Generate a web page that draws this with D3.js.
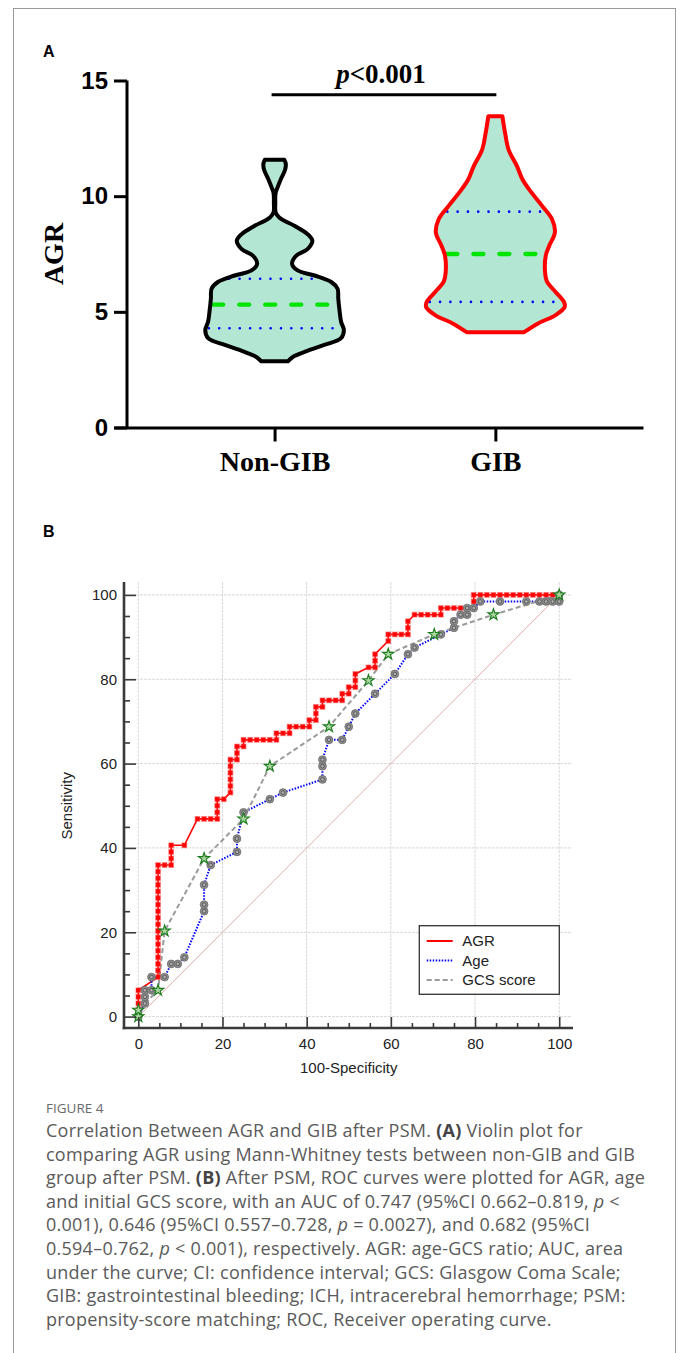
<!DOCTYPE html>
<html><head><meta charset="utf-8">
<script src="https://cdn.jsdelivr.net/npm/d3@7"></script>
<style>body{margin:0;background:#fff} svg{display:block}</style>
</head><body><svg id="c" width="682" height="1353"></svg>
<script>
// ---------- DATA ----------
const violinCategories = ["Non-GIB", "GIB"];
// [AGR value, relative density]
const nonGibProfile = [[2.86,0.19],[3.05,0.26],[3.3,0.46],[3.57,0.71],[3.86,0.95],[4.21,0.99],[4.57,0.95],[5.0,0.93],[5.57,0.91],[6.0,0.9],[6.29,0.81],[6.57,0.57],[6.79,0.33],[7.07,0.25],[7.43,0.31],[7.71,0.47],[8.07,0.54],[8.36,0.47],[8.71,0.29],[9.07,0.07],[9.3,0.015],[9.7,0.01],[10.14,0.015],[10.36,0.04],[10.71,0.086],[11.14,0.15],[11.4,0.16],[11.57,0.14]];
const gibProfile = [[4.12,0.41],[4.5,0.61],[4.86,0.86],[5.21,0.99],[5.43,0.98],[5.86,0.86],[6.29,0.74],[6.71,0.71],[7.43,0.72],[7.86,0.77],[8.43,0.85],[9.0,0.81],[9.57,0.67],[10.14,0.52],[10.71,0.39],[11.29,0.31],[12.0,0.19],[12.71,0.14],[13.46,0.1]];
const nonGibQuartiles = [4.29, 5.31, 6.43];   // Q1, median, Q3
const gibQuartiles = [5.43, 7.5, 9.33];
const agrTicks = [0, 5, 10, 15];
const pValueText = ["p", "<0.001"];

const rocTicks = [0, 20, 40, 60, 80, 100];
const rocMinorTicks = [5,10,15,25,30,35,45,50,55,65,70,75,85,90,95];
// [100-Specificity, Sensitivity]
const agrRoc = [[0,0],[0,1.56],[0,3.13],[0,4.69],[0,6.25],
[4.69,9.38],[4.69,10.94],[4.69,12.5],[4.69,14.06],[4.69,15.63],[4.69,17.19],[4.69,18.75],[4.69,20.31],[4.69,21.88],[4.69,23.44],[4.69,25],[4.69,26.56],[4.69,28.13],[4.69,29.69],[4.69,31.25],[4.69,32.81],[4.69,34.38],[4.69,35.94],
[6.25,35.94],[7.81,35.94],[7.81,37.5],[7.81,39.06],[7.81,40.63],[10.94,40.63],
[14.06,46.88],[15.63,46.88],[17.19,46.88],[18.75,46.88],[18.75,48.44],[18.75,50],[18.75,51.56],[20.31,51.56],
[21.88,53.13],[21.88,54.69],[21.88,56.25],[21.88,57.81],[21.88,59.38],[21.88,60.94],
[23.44,60.94],[23.44,62.5],[23.44,64.06],[25,64.06],[25,65.63],
[26.56,65.63],[28.13,65.63],[29.69,65.63],[31.25,65.63],[32.81,65.63],
[32.81,67.19],[34.38,67.19],[35.94,67.19],[35.94,68.75],[37.5,68.75],[39.06,68.75],[40.63,68.75],
[40.63,70.31],[42.19,70.31],[42.19,71.88],[42.19,73.44],[43.75,73.44],[43.75,75],
[45.31,75],[46.88,75],[48.44,75],[48.44,76.56],[50,76.56],[50,78.13],
[51.56,78.13],[51.56,79.69],[51.56,81.25],[54.69,82.81],[56.25,82.81],[56.25,84.38],[56.25,85.94],
[59.38,89.06],[59.38,90.63],[60.94,90.63],[62.5,90.63],[64.06,90.63],[64.06,92.19],[64.06,93.75],
[65.63,95.31],[67.19,95.31],[68.75,95.31],[70.31,95.31],[71.88,95.31],
[71.88,96.88],[73.44,96.88],[75,96.88],[76.56,96.88],[78.13,96.88],[79.69,96.88],[79.69,98.44],[79.69,100],
[81.25,100],[82.81,100],[84.38,100],[85.94,100],[87.5,100],[89.06,100],[90.63,100],[92.19,100],[93.75,100],[95.31,100],[96.88,100],[98.44,100],[100,100]];
const ageRoc = [[0,0],[1.56,3.13],[1.56,4.69],[1.56,6.25],[3.13,6.25],[3.13,9.38],[6.25,9.38],[7.81,12.5],[9.38,12.5],[10.94,14.06],
[15.63,25],[15.63,26.56],[15.63,31.25],[17.19,35.94],[23.44,39.06],[23.44,42.19],[25,48.44],[31.25,51.56],[34.38,53.13],
[43.75,56.25],[43.75,59.38],[43.75,60.94],[45.31,65.63],[48.44,65.63],[50,68.75],[51.56,71.88],[56.25,76.56],[60.94,81.25],
[64.06,85.94],[65.63,87.5],[71.88,90.63],[75,92.19],[75,93.75],[76.56,95.31],[78.13,95.31],[78.13,96.88],[79.69,96.88],
[81.25,98.44],[85.94,98.44],[92.19,98.44],[95.31,98.44],[96.88,98.44],[98.44,98.44],[100,98.44],[100,100]];
const gcsRoc = [[0,0],[0,1.56],[4.69,6.25],[6.25,20.31],[15.63,37.5],[25,46.88],[31.25,59.38],[45.31,68.75],[54.69,79.69],[59.38,85.94],[70.31,90.63],[84.38,95.31],[100,100]];
const legendLabels = ["AGR", "Age", "GCS score"];

const captionTitle = "FIGURE 4";
const captionLines = [
  [["Correlation Between AGR and GIB after PSM. ",""],["(A)","b"],[" Violin plot for",""]],
  [["comparing AGR using Mann-Whitney tests between non-GIB and GIB",""]],
  [["group after PSM. ",""],["(B)","b"],[" After PSM, ROC curves were plotted for AGR, age",""]],
  [["and initial GCS score, with an AUC of 0.747 (95%CI 0.662\u20130.819, ",""],["p","i"],[" <",""]],
  [["0.001), 0.646 (95%CI 0.557\u20130.728, ",""],["p","i"],[" = 0.0027), and 0.682 (95%CI",""]],
  [["0.594\u20130.762, ",""],["p","i"],[" < 0.001), respectively. AGR: age-GCS ratio; AUC, area",""]],
  [["under the curve; CI: confidence interval; GCS: Glasgow Coma Scale;",""]],
  [["GIB: gastrointestinal bleeding; ICH, intracerebral hemorrhage; PSM:",""]],
  [["propensity-score matching; ROC, Receiver operating curve.",""]]
];

// ---------- DRAW ----------
const svg = d3.select("#c");
svg.append("rect").attr("x",13.5).attr("y",8.5).attr("width",662).attr("height",1360)
  .attr("fill","#fff").attr("stroke","#9a9a9a").attr("stroke-width",1);

const SANS = "Liberation Sans, Arial, sans-serif";
const SERIF = "Liberation Serif, Times New Roman, serif";

svg.append("text").attr("x",43).attr("y",57).text("A")
  .attr("font-family",SANS).attr("font-weight","bold").attr("font-size",16);
svg.append("text").attr("x",43).attr("y",537).text("B")
  .attr("font-family",SANS).attr("font-weight","bold").attr("font-size",16);

// ---- Panel A ----
const yA = d3.scaleLinear().domain([0,15]).range([427.5,80.5]);
const xA = d3.scalePoint().domain(violinCategories).range([114,643]).padding(0.698).align(0.521);
const wScale = d3.scaleLinear().domain([0,1]).range([0,70]);

const gA = svg.append("g");
const violins = [
  {cat:"Non-GIB", prof:nonGibProfile, q:nonGibQuartiles, stroke:"#000000"},
  {cat:"GIB", prof:gibProfile, q:gibQuartiles, stroke:"#ff0000"}
];
violins.forEach(v => {
  const cx = xA(v.cat);
  const area = d3.area().curve(d3.curveCatmullRom.alpha(0.5))
    .y(d => yA(d[0])).x0(d => cx - wScale(d[1])).x1(d => cx + wScale(d[1]));
  gA.append("path").attr("d", area(v.prof)).attr("fill","#b3e6d3").attr("stroke","none");
  const wAt = d3.scaleLinear().domain(v.prof.map(d=>d[0])).range(v.prof.map(d=>d[1]));
  v.q.forEach((qv,i) => {
    const w = wScale(wAt(qv)) - 3;
    const ln = gA.append("line").attr("x1",cx - w).attr("x2",cx + w).attr("y1",yA(qv)).attr("y2",yA(qv))
      .attr("stroke-linecap","round");
    if (i === 1) ln.attr("stroke","#00e600").attr("stroke-width",4.3).attr("stroke-dasharray","10,16");
    else ln.attr("stroke","#0000ff").attr("stroke-width",2.6).attr("stroke-dasharray","0,10.3");
  });
  gA.append("path").attr("d", area(v.prof)).attr("fill","none").attr("stroke",v.stroke)
    .attr("stroke-width",4).attr("stroke-linejoin","round");
});

const yAxisA = gA.append("g").attr("transform","translate(127,0)")
  .call(d3.axisLeft(yA).tickValues(agrTicks).tickSize(13).tickSizeOuter(0).tickPadding(6));
yAxisA.selectAll("path,line").attr("stroke","#000").attr("stroke-width",3);
yAxisA.select(".domain").attr("d","M0,80.5V427.5");
yAxisA.selectAll("text").attr("font-family",SANS).attr("font-weight","bold").attr("font-size",24).attr("fill","#000");

const xAxisA = gA.append("g").attr("transform","translate(0,427.5)")
  .call(d3.axisBottom(xA).tickSize(14).tickSizeOuter(0).tickPadding(10));
xAxisA.selectAll("path,line").attr("stroke","#000").attr("stroke-width",3);
xAxisA.selectAll("text").attr("font-family",SERIF).attr("font-weight","bold").attr("font-size",28).attr("fill","#000");

gA.append("text").attr("transform","translate(63,254) rotate(-90)").attr("text-anchor","middle")
  .attr("font-family",SERIF).attr("font-weight","bold").attr("font-size",28).text("AGR");

gA.append("line").attr("x1",xA("Non-GIB")-3).attr("x2",xA("GIB")+1).attr("y1",94.7).attr("y2",94.7)
  .attr("stroke","#000").attr("stroke-width",3);
const pt = gA.append("text").attr("x",(xA("Non-GIB")+xA("GIB"))/2 - 4).attr("y",83).attr("text-anchor","middle")
  .attr("font-family",SERIF).attr("font-weight","bold").attr("font-size",27);
pt.append("tspan").attr("font-style","italic").text(pValueText[0]);
pt.append("tspan").text(pValueText[1]);

// ---- Panel B ----
const xB = d3.scaleLinear().domain([-3.4,102.8]).range([124,571]);
const yB = d3.scaleLinear().domain([-2.7,103.06]).range([1028,582]);
const gB = svg.append("g");

// grid
gB.selectAll("line.gx").data(rocTicks).join("line")
  .attr("x1",d=>xB(d)).attr("x2",d=>xB(d)).attr("y1",582).attr("y2",1028)
  .attr("stroke","#d9d9d9").attr("stroke-width",1).attr("stroke-dasharray","3,1");
gB.selectAll("line.gy").data(rocTicks).join("line")
  .attr("y1",d=>yB(d)).attr("y2",d=>yB(d)).attr("x1",124).attr("x2",571)
  .attr("stroke","#d9d9d9").attr("stroke-width",1).attr("stroke-dasharray","3,1");

// diagonal
gB.append("line").attr("x1",xB(0)).attr("y1",yB(0)).attr("x2",xB(100)).attr("y2",yB(100))
  .attr("stroke","#e2aaa6").attr("stroke-width",1);

const lineGen = d3.line().x(d=>xB(d[0])).y(d=>yB(d[1]));
gB.append("path").attr("d",lineGen(agrRoc)).attr("fill","none").attr("stroke","#ff0000").attr("stroke-width",1.6);
gB.append("path").attr("d",lineGen(ageRoc)).attr("fill","none").attr("stroke","#0000ff").attr("stroke-width",2).attr("stroke-dasharray","1.5,1.5");
gB.append("path").attr("d",lineGen(gcsRoc)).attr("fill","none").attr("stroke","#9a9a9a").attr("stroke-width",2).attr("stroke-dasharray","5,3");

// markers
gB.selectAll("rect.agr").data(agrRoc).join("rect")
  .attr("x",d=>xB(d[0])-2.3).attr("y",d=>yB(d[1])-2.3).attr("width",4.6).attr("height",4.6)
  .attr("fill","#ff0000").attr("stroke","rgba(255,60,60,0.45)").attr("stroke-width",1.3);
const ageG = gB.selectAll("g.age").data(ageRoc).join("g")
  .attr("transform",d=>`translate(${xB(d[0])},${yB(d[1])})`);
ageG.append("circle").attr("r",3.9).attr("fill","#8e8e8e").attr("stroke","#6a6a6a").attr("stroke-width",0.8);
ageG.append("circle").attr("r",1.8).attr("fill","#b0b0b0").attr("stroke","#4a4a4a").attr("stroke-width",0.8);
gB.selectAll("path.gcs").data(gcsRoc).join("path")
  .attr("transform",d=>`translate(${xB(d[0])},${yB(d[1])})`)
  .attr("d",d3.symbol().type(d3.symbolStar).size(40)())
  .attr("fill","#a9d69e").attr("stroke","#1b7a1b").attr("stroke-width",1.1);

// axes
const axCol = "#3a3a3a";
const yl = gB.append("g").attr("transform","translate(124,0)")
  .call(d3.axisLeft(yB).tickValues(rocTicks).tickSize(0).tickPadding(7));
yl.select(".domain").remove();
yl.selectAll("text").attr("font-family",SANS).attr("font-size",15).attr("fill","#222");
const yMaj = gB.append("g").attr("transform","translate(124,0)")
  .call(d3.axisRight(yB).tickValues(rocTicks).tickSize(12).tickFormat(""));
yMaj.select(".domain").remove();
const yMin = gB.append("g").attr("transform","translate(124,0)")
  .call(d3.axisRight(yB).tickValues(rocMinorTicks).tickSize(6).tickFormat(""));
yMin.select(".domain").remove();
const xl = gB.append("g").attr("transform","translate(0,1028)")
  .call(d3.axisBottom(xB).tickValues(rocTicks).tickSize(0).tickPadding(10.5));
xl.select(".domain").remove();
xl.selectAll("text").attr("font-family",SANS).attr("font-size",15).attr("fill","#222");
const xMaj = gB.append("g").attr("transform","translate(0,1028)")
  .call(d3.axisTop(xB).tickValues(rocTicks).tickSize(11).tickFormat(""));
xMaj.select(".domain").remove();
const xMin = gB.append("g").attr("transform","translate(0,1028)")
  .call(d3.axisTop(xB).tickValues(rocMinorTicks).tickSize(5).tickFormat(""));
xMin.select(".domain").remove();
gB.selectAll(".tick line").attr("stroke",axCol).attr("stroke-width",1.6);
gB.append("line").attr("x1",124).attr("x2",124).attr("y1",582).attr("y2",1029.3).attr("stroke",axCol).attr("stroke-width",2.6);
gB.append("line").attr("x1",122.7).attr("x2",573).attr("y1",1028).attr("y2",1028).attr("stroke",axCol).attr("stroke-width",2.6);

gB.append("text").attr("x",(xB(0)+xB(100))/2).attr("y",1073).attr("text-anchor","middle")
  .attr("font-family",SANS).attr("font-size",15).attr("fill","#222").text("100-Specificity");
gB.append("text").attr("transform",`translate(72,${yB(50)}) rotate(-90)`).attr("text-anchor","middle")
  .attr("font-family",SANS).attr("font-size",15).attr("fill","#222").text("Sensitivity");

// legend
const lg = gB.append("g");
lg.append("rect").attr("x",419.3).attr("y",925.7).attr("width",140).attr("height",68.6)
  .attr("fill","#fff").attr("stroke","#333").attr("stroke-width",1.3);
const legStyles = [
  {stroke:"#ff0000", dash:null, w:2},
  {stroke:"#0000ff", dash:"1.5,1.5", w:2},
  {stroke:"#9a9a9a", dash:"5,3", w:2}
];
legendLabels.forEach((lab,i) => {
  const yy = 941 + i*19.5;
  const l = lg.append("line").attr("x1",426.7).attr("x2",452.7).attr("y1",yy).attr("y2",yy)
    .attr("stroke",legStyles[i].stroke).attr("stroke-width",legStyles[i].w);
  if (legStyles[i].dash) l.attr("stroke-dasharray",legStyles[i].dash);
  lg.append("text").attr("x",462.3).attr("y",yy+5.3).attr("font-family",SANS).attr("font-size",15)
    .attr("fill","#222").text(lab);
});

// ---- Caption ----
const CAP = "Open Sans, Noto Sans, sans-serif";
svg.append("text").attr("x",46).attr("y",1113).attr("font-family",CAP).attr("font-size",13.5)
  .attr("fill","#6a6a6a").text(captionTitle);
captionLines.forEach((segs,i) => {
  const t = svg.append("text").attr("x",46).attr("y",1137 + i*23.6).attr("font-family",CAP)
    .attr("font-size",18).attr("letter-spacing",0.25).attr("fill","#5a5a5a").style("white-space","pre");
  segs.forEach(s => {
    const ts = t.append("tspan").text(s[0]);
    if (s[1]==="b") ts.attr("font-weight","bold").attr("fill","#444");
    if (s[1]==="i") ts.attr("font-style","italic");
  });
});
</script></body></html>
